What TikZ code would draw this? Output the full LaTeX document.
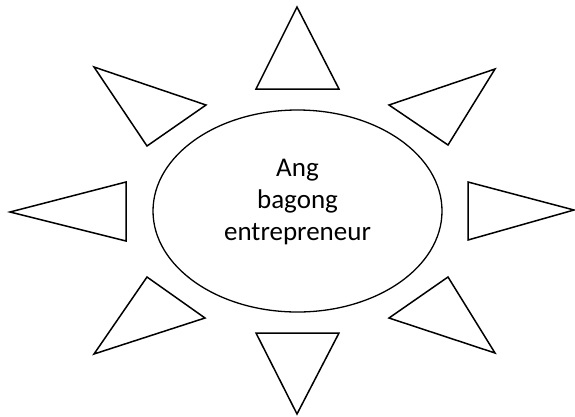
\documentclass[tikz,border=0pt]{standalone}
\usepackage{fontspec}
\setmainfont{Carlito}
\usetikzlibrary{shapes}
\tikzstyle{hub} = [draw, ellipse, line width=1.3pt, inner sep=0pt,
minimum width=289pt, minimum height=202pt]
\tikzstyle{hubtext} = [align=center, inner sep=0pt,
font=\fontsize{27}{32}\selectfont]
\tikzstyle{ray} = [draw, line width=1.5pt, line join=miter]

\begin{document}
\begin{tikzpicture}[x=1pt, y=-1pt]
	\useasboundingbox (0,0) rectangle (575,416);

	\node [hub] (hub) at (297.5,211) {};
	\node [hubtext] (title) at (297.5,202) {Ang\\bagong\\entrepreneur};

	% the eight rays round the hub
	\draw [ray] (297,7) -- (339,89) -- (256,89) -- cycle;
	\draw [ray] (94,67) -- (206,105) -- (147,146) -- cycle;
	\draw [ray] (495,69) -- (389,105) -- (448,145) -- cycle;
	\draw [ray] (10,212) -- (126,182) -- (126,241) -- cycle;
	\draw [ray] (574,210) -- (468,182) -- (468,240) -- cycle;
	\draw [ray] (94,354) -- (147,277) -- (205,318) -- cycle;
	\draw [ray] (495,353) -- (448,277) -- (389,318) -- cycle;
	\draw [ray] (297,414) -- (256,333) -- (339,333) -- cycle;

\end{tikzpicture}
\end{document}
